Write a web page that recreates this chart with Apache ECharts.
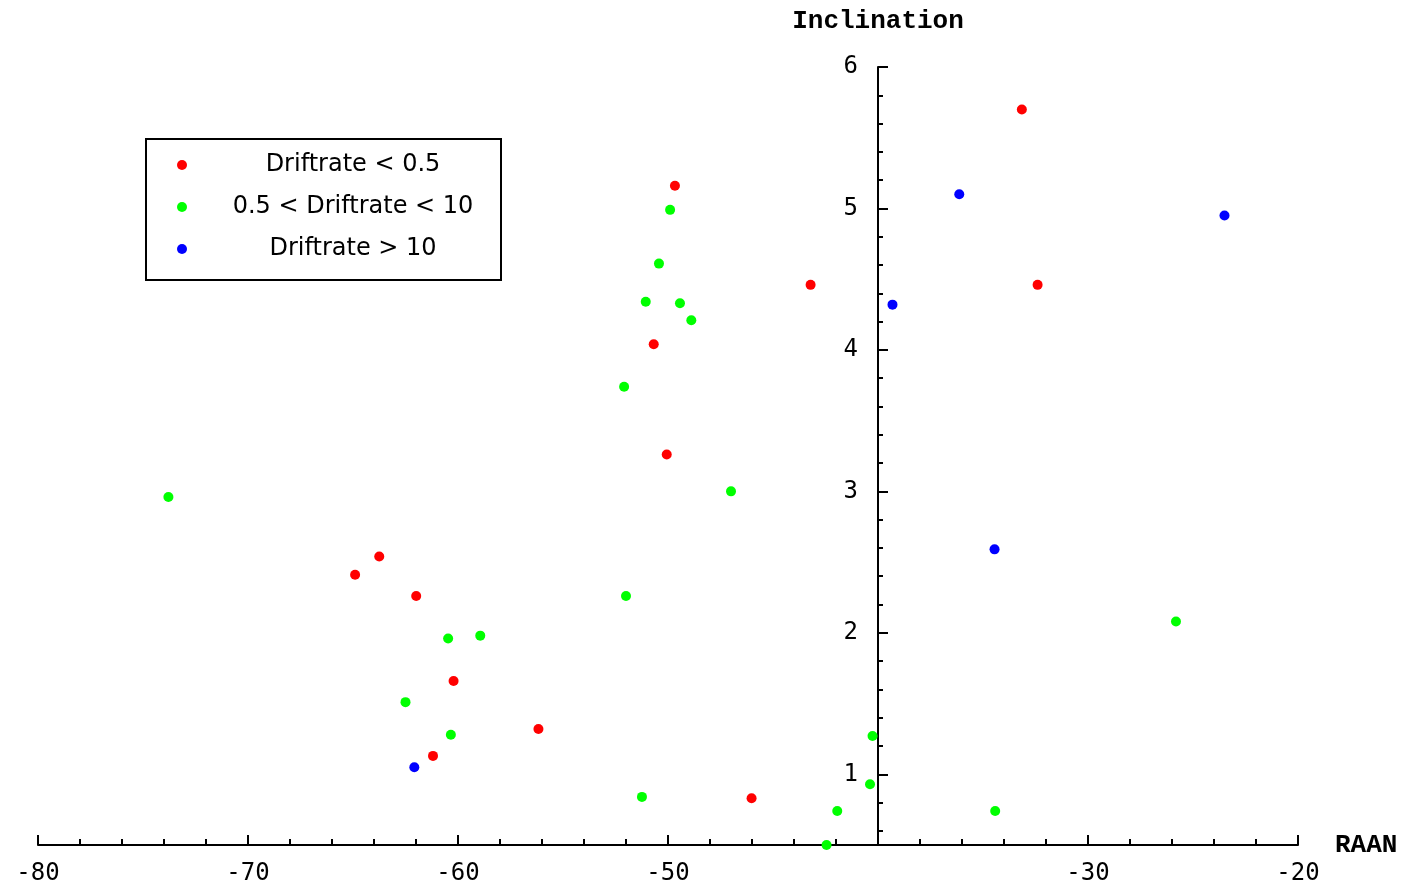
<!DOCTYPE html>
<html>
<head>
<meta charset="utf-8">
<script src="https://cdn.jsdelivr.net/npm/echarts@6/dist/echarts.min.js"></script>
<style>
html,body{margin:0;padding:0;background:#fff;}
#c{width:1410px;height:887px;}
</style>
</head>
<body>
<div id="c"></div>
<script>
// Series data: [RAAN, Inclination]
const seriesNames = ['Driftrate < 0.5', '0.5 < Driftrate < 10', 'Driftrate > 10'];
const redPoints = [
  [-33.15, 5.70], [-49.67, 5.16], [-43.21, 4.46], [-32.40, 4.46], [-50.68, 4.04],
  [-50.06, 3.26], [-63.75, 2.54], [-64.90, 2.41], [-61.99, 2.26], [-60.21, 1.66],
  [-56.17, 1.32], [-61.19, 1.13], [-46.02, 0.83]
];
const greenPoints = [
  [-49.90, 4.99], [-50.43, 4.61], [-51.06, 4.34], [-49.43, 4.33], [-48.89, 4.21],
  [-52.09, 3.74], [-73.79, 2.96], [-47.00, 3.00], [-52.00, 2.26], [-60.47, 1.96],
  [-58.94, 1.98], [-62.50, 1.51], [-60.34, 1.28], [-40.26, 1.27], [-51.24, 0.84],
  [-40.38, 0.93], [-41.94, 0.74], [-34.42, 0.74], [-42.45, 0.50], [-25.81, 2.08]
];
const bluePoints = [
  [-36.13, 5.10], [-23.50, 4.95], [-39.31, 4.32], [-34.45, 2.59], [-62.08, 1.05]
];
const seriesColors = ['#ff0000', '#00ff00', '#0000ff'];

// Axis ticks
const xMin = -80, xMax = -20, xInterval = 10;
const xLabelValues = [-80, -70, -60, -50, -30, -20];
const yMin = 0.5, yMax = 6;
const yMajorTicks = [1, 2, 3, 4, 5, 6];
const yMinorTicks = [0.6, 0.8, 1.2, 1.4, 1.6, 1.8, 2.2, 2.4, 2.6, 2.8, 3.2, 3.4, 3.6, 3.8,
                     4.2, 4.4, 4.6, 4.8, 5.2, 5.4, 5.6, 5.8];
const xAxisName = 'RAAN';
const yAxisName = 'Inclination';
const yAxisAtX = -40;

const chart = echarts.init(document.getElementById('c'), null, {renderer: 'canvas'});

const gridLeft = 38, gridRight = 112;
const gridWidth = 1410 - gridLeft - gridRight;
const yOffset = -gridWidth * (yAxisAtX - xMin) / (xMax - xMin);

const monoName = {fontFamily: 'Liberation Mono', fontWeight: 'bold', fontSize: 26, color: '#000'};
const tickFont = {fontFamily: 'DejaVu Sans Mono', fontSize: 24, color: '#000'};

const allPoints = [redPoints, greenPoints, bluePoints];

chart.setOption({
  animation: false,
  backgroundColor: '#fff',
  grid: {left: gridLeft, right: gridRight, top: 67, bottom: 42, containLabel: false},
  graphic: [{
    type: 'rect',
    shape: {x: 146, y: 139, width: 355, height: 141},
    style: {fill: 'none', stroke: '#000', lineWidth: 2},
    z: 10
  }],
  legend: {
    orient: 'vertical',
    left: 177,
    top: 153,
    padding: 0,
    itemWidth: 10,
    itemHeight: 14,
    itemGap: 18,
    icon: 'circle',
    data: seriesNames,
    formatter: function (name) { return '{c|' + name + '}'; },
    textStyle: {
      rich: {
        c: {
          width: 322, align: 'center', lineHeight: 14,
          fontFamily: 'DejaVu Sans', fontSize: 24, color: '#000'
        }
      }
    }
  },
  xAxis: {
    type: 'value',
    min: xMin, max: xMax, interval: xInterval,
    name: xAxisName,
    nameLocation: 'end',
    nameGap: 37,
    nameTextStyle: monoName,
    axisLine: {show: true, onZero: false, lineStyle: {color: '#000', width: 2}},
    axisTick: {show: true, inside: true, length: 10, lineStyle: {color: '#000', width: 2}},
    minorTick: {show: true, splitNumber: 5, length: 6, lineStyle: {color: '#000', width: 2}},
    axisLabel: Object.assign({margin: 17, customValues: xLabelValues}, tickFont),
    splitLine: {show: false},
    minorSplitLine: {show: false}
  },
  yAxis: [{
    type: 'value',
    min: yMin, max: yMax,
    position: 'left',
    offset: yOffset,
    name: yAxisName,
    nameLocation: 'end',
    nameGap: 33,
    nameTextStyle: monoName,
    axisLine: {show: true, onZero: false, lineStyle: {color: '#000', width: 2}},
    axisTick: {show: true, inside: true, length: 10, customValues: yMajorTicks,
               lineStyle: {color: '#000', width: 2}},
    axisLabel: Object.assign({margin: 20, customValues: yMajorTicks}, tickFont),
    splitLine: {show: false}
  }, {
    type: 'value',
    min: yMin, max: yMax,
    position: 'left',
    offset: yOffset,
    axisLine: {show: false, onZero: false},
    axisTick: {show: true, inside: true, length: 5, customValues: yMinorTicks,
               lineStyle: {color: '#000', width: 2}},
    axisLabel: {show: false},
    splitLine: {show: false}
  }],
  series: seriesNames.map(function (n, i) {
    return {
      name: n,
      type: 'scatter',
      yAxisIndex: 0,
      symbol: 'circle',
      symbolSize: 10,
      itemStyle: {color: seriesColors[i], opacity: 1},
      data: allPoints[i],
      clip: false,
      z: 5
    };
  })
});
</script>
</body>
</html>
